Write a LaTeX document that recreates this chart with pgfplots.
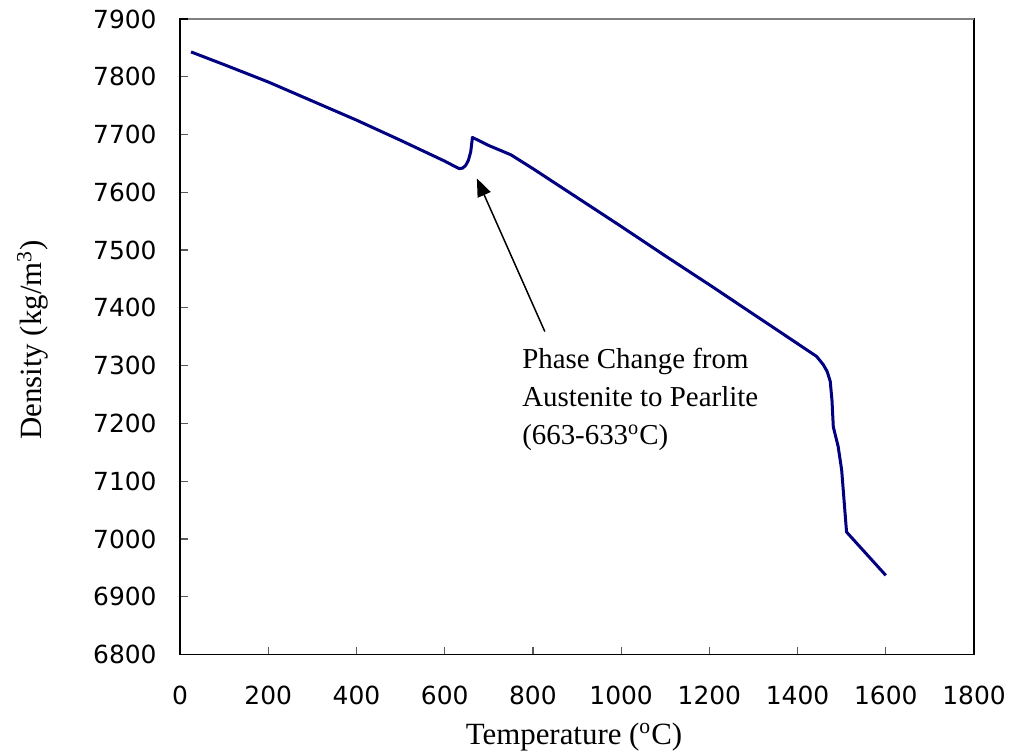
\documentclass[border=0pt]{standalone}
\usepackage{fontspec}
\setmainfont{Liberation Serif}
\newfontfamily\tickfont{DejaVu Sans}
\usepackage{pgfplots}
\pgfplotsset{compat=1.18}
\usetikzlibrary{arrows.meta}
\definecolor{densityblue}{RGB}{0,0,128}

% Density of steel versus temperature
\pgfplotstableread{
T     rho
25    7843
100   7821
200   7791
300   7758
400   7725
500   7690
600   7654
620   7646
633   7641
641   7642
648   7647
654   7656
659   7670
663   7695
700   7681
750   7665
800   7641
900   7591
1000  7541
1100  7490
1200  7440
1300  7389
1400  7338
1443  7316
1458  7302
1467  7290
1474  7273
1478  7240
1481  7194
1492  7160
1500  7119
1511  7012
1600  6937
}\densitydata

\begin{document}
\begin{tikzpicture}[x=1bp,y=1bp]
\path[use as bounding box] (0,0) rectangle (506.5,377.5);
\begin{axis}[
  at={(90bp,50.25bp)}, anchor=south west,
  scale only axis, width=397bp, height=317.75bp,
  xmin=0, xmax=1800, ymin=6800, ymax=7900,
  xtick={0,200,400,600,800,1000,1200,1400,1600,1800},
  ytick={6800,6900,7000,7100,7200,7300,7400,7500,7600,7700,7800,7900},
  xtick pos=left, ytick pos=left,
  tick align=inside,
  major tick length=4bp,
  tick style={black!65, line width=0.6bp},
  axis line style={black, line width=0.9bp},
  /pgf/number format/assume math mode=true,
  /pgf/number format/1000 sep={},
  ticklabel style={font=\tickfont\fontsize{12.5}{14}\selectfont, inner sep=0pt},
  yticklabel style={anchor=east, xshift=-11.5bp},
  xticklabel style={anchor=north, yshift=-15.5bp},
  clip=false,
]
\addplot[densityblue, line width=1.5bp, line join=round] table[x=T, y=rho] {\densitydata};
\draw[-{Triangle[length=9bp,width=7bp]}, line width=0.75bp]
  (axis cs:827,7359) -- (axis cs:673,7624);
\node[anchor=base west, inner sep=0pt, font=\fontsize{14.5}{17}\selectfont]
  at (axis cs:775,7295) {Phase Change from};
\node[anchor=base west, inner sep=0pt, font=\fontsize{14.5}{17}\selectfont]
  at (axis cs:775,7229) {Austenite to Pearlite};
\node[anchor=base west, inner sep=0pt, font=\fontsize{14.5}{17}\selectfont]
  at (axis cs:775,7163) {(663-633\textsuperscript{o}C)};
\coordinate (tl) at (rel axis cs:0,1);
\coordinate (tr) at (rel axis cs:1,1);
\end{axis}
% lighter top border of the plot area
\draw[black!50, line width=0.9bp] ([xshift=4bp]tl) -- (tr);
\node[anchor=base, inner sep=0pt, font=\fontsize{15.5}{18}\selectfont]
  at (287,5.5) {Temperature (\textsuperscript{o}C)};
\node[anchor=base, rotate=90, inner sep=0pt, font=\fontsize{15.5}{18}\selectfont]
  at (20.85,207.5) {Density (kg/m\textsuperscript{3})};
\end{tikzpicture}
\end{document}
